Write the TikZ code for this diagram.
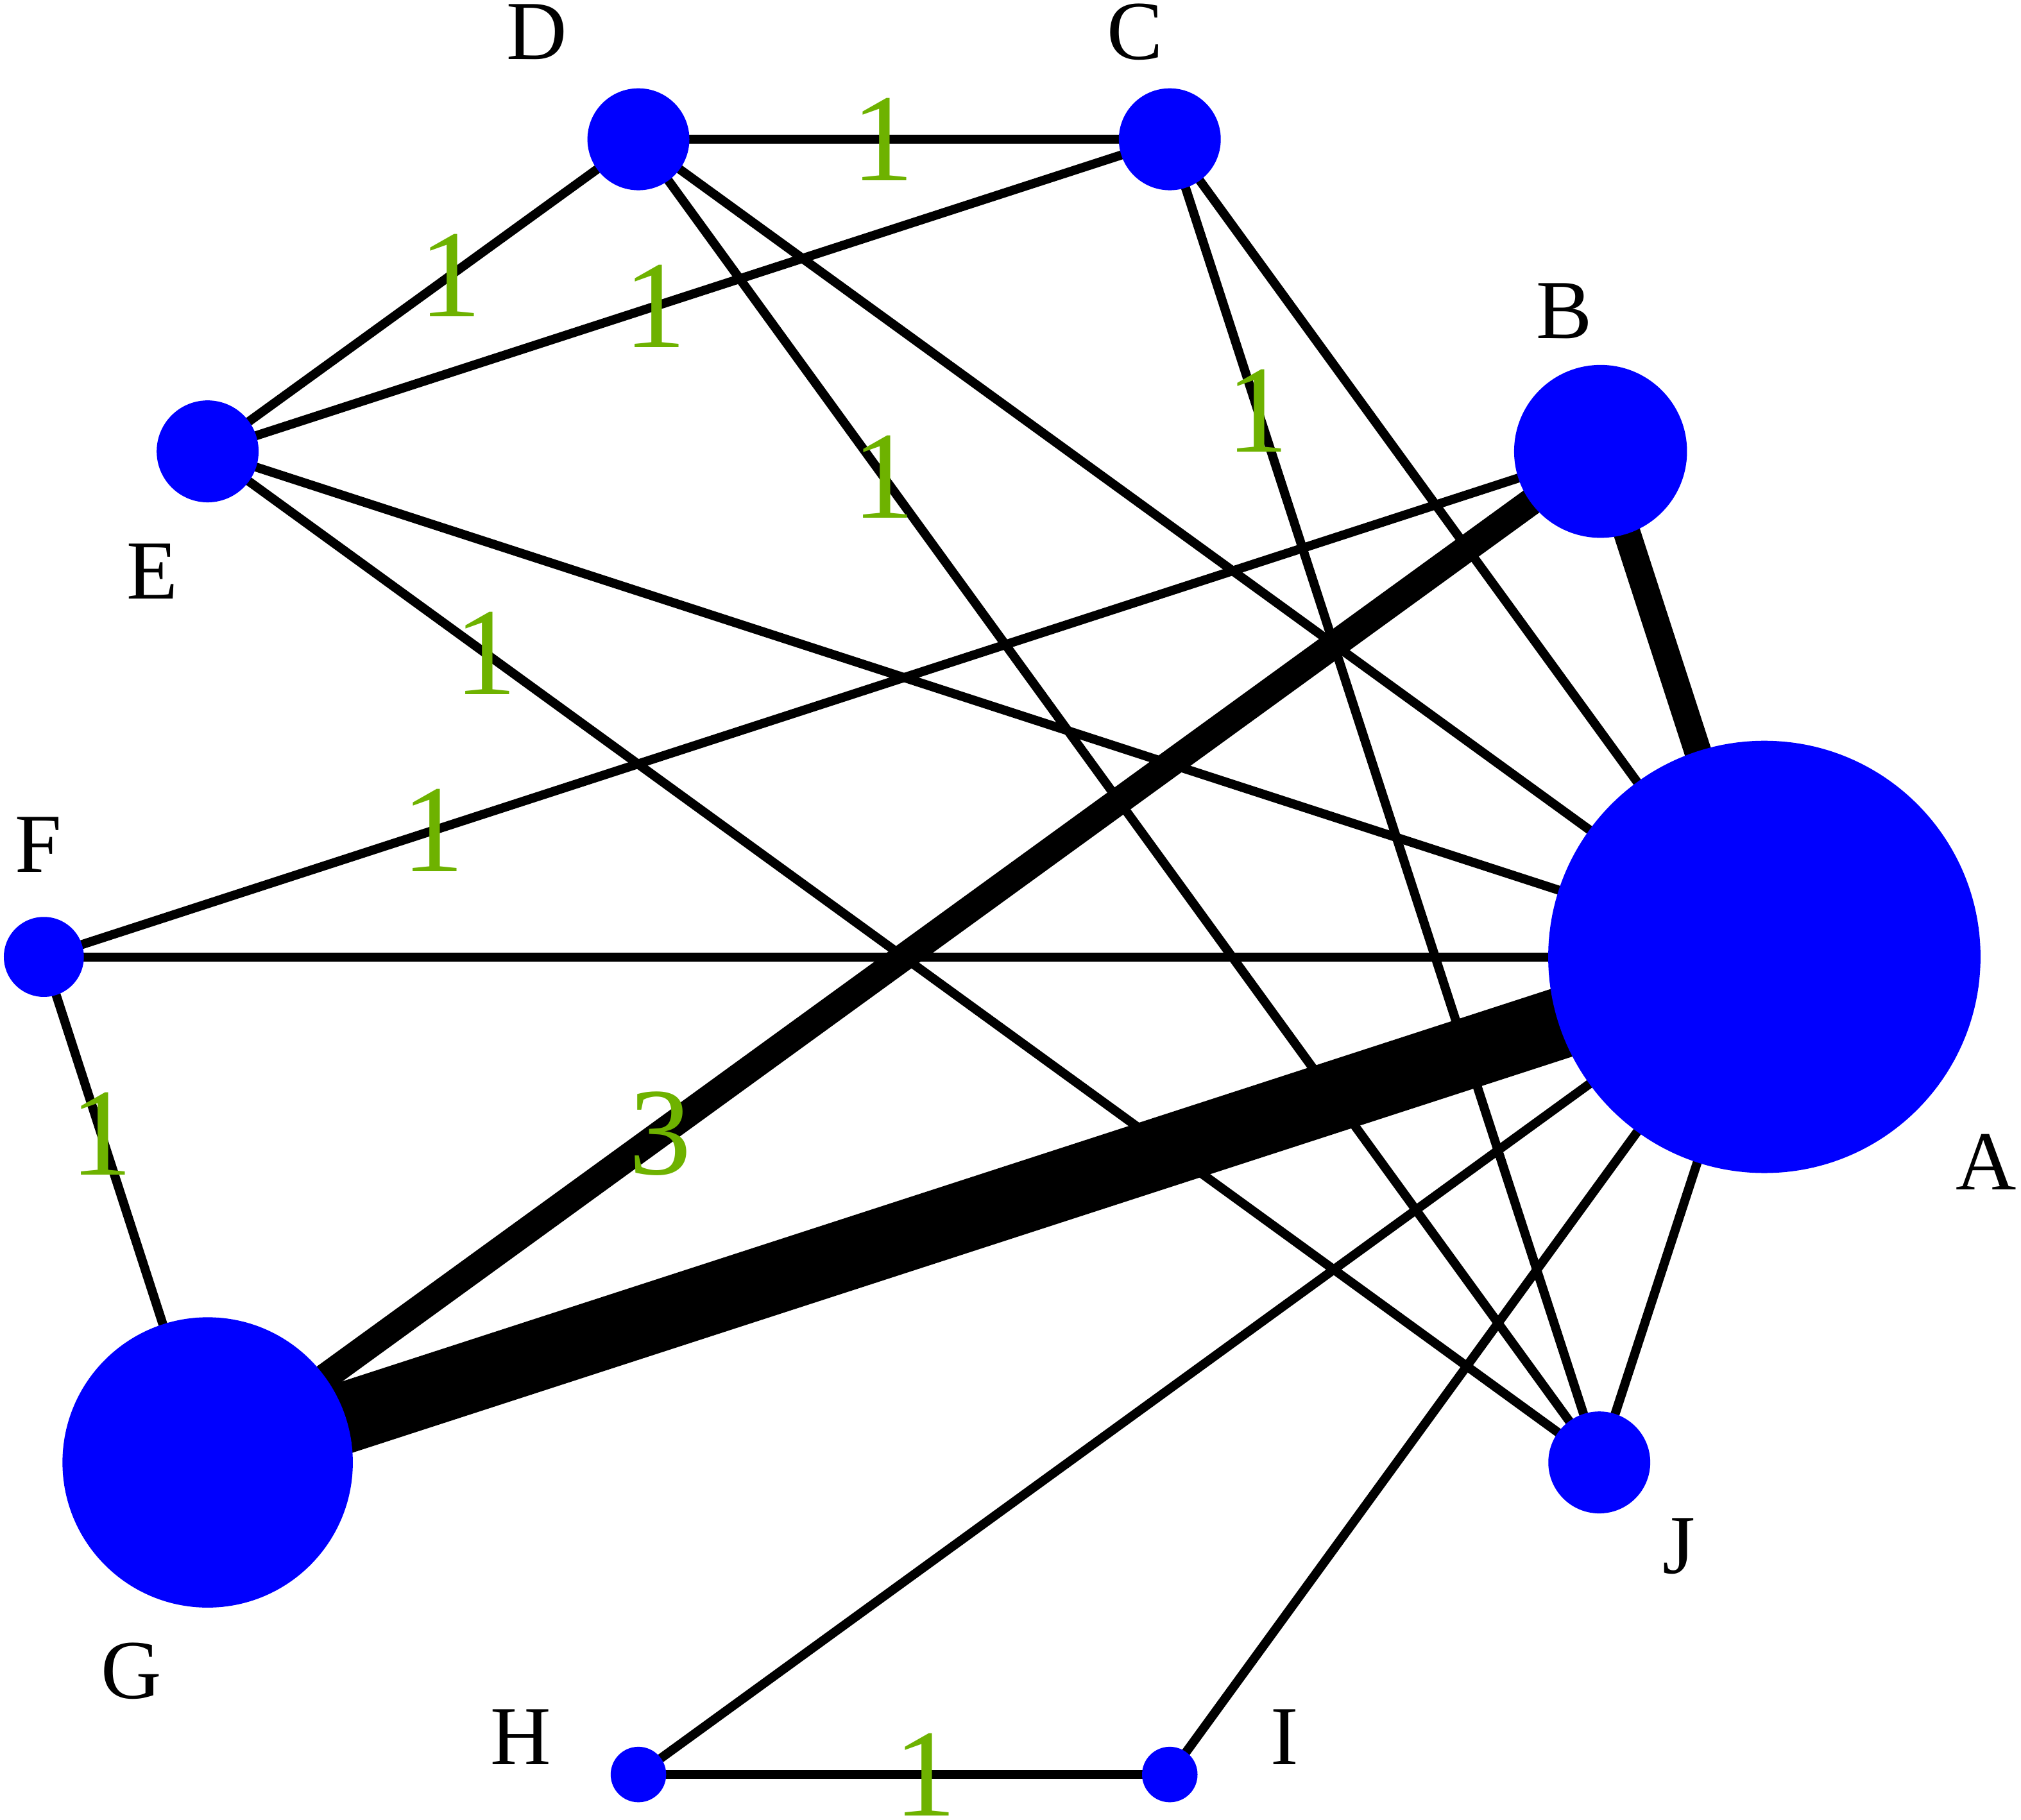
\documentclass[tikz,border=0pt]{standalone}
\usepackage{fontspec}
\setmainfont{Liberation Serif}
\usetikzlibrary{shapes,backgrounds}
\definecolor{numgreen}{RGB}{110,178,0}
\tikzset{x=0.01cm, y=-0.01cm, % one unit is one hundredth of a cm, y runs down
study/.style={circle, fill=blue, inner sep=0pt}, % the blue treatment nodes
one/.style={line width=0.07cm}, % one trial
three/.style={line width=0.21cm}, % three trials
eight/.style={line width=0.55cm}, % eight trials
num/.style={text=numgreen, font=\fontsize{27.5}{27.5}\selectfont, inner sep=0pt}, % green trial counts
lbl/.style={font=\fontsize{18.5}{18.5}\selectfont, inner sep=0pt}, % treatment letters
}

\begin{document}
\begin{tikzpicture}
\useasboundingbox (0,0) rectangle (1567,1411);
\node[study, minimum size=3.35cm] (A) at (1368,742) {};
\node[study, minimum size=1.34cm] (B) at (1241,350) {};
\node[study, minimum size=0.79cm] (C) at (907,108) {};
\node[study, minimum size=0.79cm] (D) at (495,108) {};
\node[study, minimum size=0.79cm] (E) at (161,350) {};
\node[study, minimum size=0.62cm] (F) at (34,742) {};
\node[study, minimum size=2.25cm] (G) at (161,1134) {};
\node[study, minimum size=0.43cm] (H) at (495,1376) {};
\node[study, minimum size=0.43cm] (I) at (907,1376) {};
\node[study, minimum size=0.79cm] (J) at (1240,1134) {};
\node[lbl] (tA) at (1540,901) {A};
\node[lbl] (tB) at (1213,241) {B};
\node[lbl] (tC) at (880,25) {C};
\node[lbl] (tD) at (416,25) {D};
\node[lbl] (tE) at (118,443) {E};
\node[lbl] (tF) at (30,655) {F};
\node[lbl] (tG) at (102,1296) {G};
\node[lbl] (tH) at (404,1347) {H};
\node[lbl] (tI) at (996,1347) {I};
\node[lbl] (tJ) at (1302,1199) {J};
\begin{scope}[on background layer] % edges run under the nodes
\draw (G.center) edge[eight] (A.center)
(B.center) edge[three] (A.center)
(B.center) edge[three] node[num, pos=0.675]{3} (G.center)
(D.center) edge[one] node[num, pos=0.46]{1} (C.center)
(D.center) edge[one] node[num, pos=0.437]{1} (E.center)
(E.center) edge[one] node[num, pos=0.465]{1} (C.center)
(D.center) edge[one] node[num, pos=0.255]{1} (J.center)
(C.center) edge[one] node[num, pos=0.205]{1} (J.center)
(E.center) edge[one] node[num, pos=0.2]{1} (J.center)
(B.center) edge[one] node[num, pos=0.75]{1} (F.center)
(F.center) edge[one] node[num, pos=0.35]{1} (G.center)
(H.center) edge[one] node[num, pos=0.54]{1} (I.center)
(D.center) edge[one] (A.center)
(C.center) edge[one] (A.center)
(E.center) edge[one] (A.center)
(F.center) edge[one] (A.center)
(H.center) edge[one] (A.center)
(I.center) edge[one] (A.center)
(J.center) edge[one] (A.center);
\end{scope}
\end{tikzpicture}
\end{document}
